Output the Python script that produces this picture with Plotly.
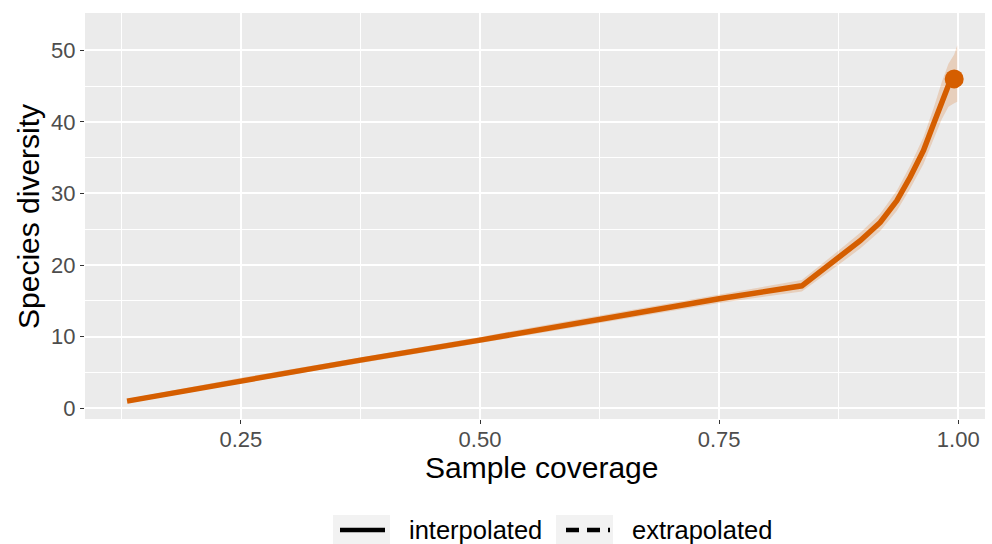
import plotly.graph_objects as go

# interpolated curve (sample coverage vs. species diversity)
coverage = [0.131, 0.25, 0.375, 0.50, 0.5625, 0.75, 0.8365, 0.8766, 0.8975, 0.9184,
            0.9359, 0.9498, 0.9637, 0.9742, 0.9829, 0.9898, 0.9958]
diversity = [1.0, 3.88, 6.72, 9.52, 11.0, 15.3, 17.1, 21.2, 23.4, 25.95,
             29.0, 32.3, 36.0, 39.7, 43.0, 45.1, 46.0]
# extrapolated part (very short, hidden under the observed point)
ext_coverage = [0.9958, 0.9990]
ext_diversity = [46.0, 46.75]

# confidence band
band_coverage = coverage + [0.9990]
band_lower = [0.7, 3.5, 6.3, 9.05, 10.5, 14.7, 16.3, 20.2, 22.3, 24.75,
              27.6, 30.7, 34.1, 37.5, 40.4, 42.1, 42.6, 42.8]
band_upper = [1.3, 4.25, 7.1, 9.95, 11.5, 15.9, 17.9, 22.2, 24.5, 27.15,
              30.4, 33.9, 37.9, 41.9, 45.6, 48.1, 49.4, 50.7]

obs_coverage = [0.9958]
obs_diversity = [46.0]

x_ticks = [0.25, 0.50, 0.75, 1.00]
x_ticklabels = ["0.25", "0.50", "0.75", "1.00"]
x_minor = [0.125, 0.375, 0.625, 0.875]
y_ticks = [0, 10, 20, 30, 40, 50]
y_minor = [5, 15, 25, 35, 45]
legend_labels = ["interpolated", "extrapolated"]

ORANGE = "#D55E00"
FONT = "Liberation Sans"

fig = go.Figure()

fig.add_trace(go.Scatter(
    x=band_coverage + band_coverage[::-1], y=band_upper + band_lower[::-1],
    fill="toself", fillcolor="rgba(213,94,0,0.2)", line=dict(width=0),
    mode="lines", showlegend=False, hoverinfo="skip"))

fig.add_trace(go.Scatter(
    x=coverage, y=diversity, mode="lines", name=legend_labels[0],
    line=dict(color=ORANGE, width=5.5), showlegend=False))

fig.add_trace(go.Scatter(
    x=ext_coverage, y=ext_diversity, mode="lines", name=legend_labels[1],
    line=dict(color=ORANGE, width=5.5, dash="dash"), showlegend=False))

fig.add_trace(go.Scatter(
    x=obs_coverage, y=obs_diversity, mode="markers",
    marker=dict(color=ORANGE, size=19), showlegend=False))

axis_common = dict(
    showgrid=True, gridcolor="white", gridwidth=1.6,
    zeroline=False, showline=False,
    ticks="outside", ticklen=4, tickwidth=1.2, tickcolor="#333333",
    tickfont=dict(family=FONT, size=22, color="#4D4D4D"),
    automargin=False,
)

# manual ggplot-style legend below the panel (paper coords: x=(px-85)/900, y=(419-py)/406)
def px_x(p):
    return (p - 85) / 900.0

def px_y(p):
    return (419 - p) / 406.0

shapes = []
annotations = []
key_boxes = [(333, 390), (556, 613)]
key_lines = [(340, 385, "solid"), (566, 610, "13px,8px")]
text_left = [407, 630]
for (b0, b1), (l0, l1, dash), tl, label in zip(key_boxes, key_lines, text_left, legend_labels):
    shapes.append(dict(type="rect", xref="paper", yref="paper",
                       x0=px_x(b0), x1=px_x(b1), y0=px_y(545), y1=px_y(515),
                       fillcolor="#F2F2F2", line=dict(width=0), layer="below"))
    shapes.append(dict(type="line", xref="paper", yref="paper",
                       x0=px_x(l0), x1=px_x(l1), y0=px_y(530), y1=px_y(530),
                       line=dict(color="black", width=4.5, dash=dash)))
    annotations.append(dict(text=label, xref="paper", yref="paper",
                            x=px_x(tl), y=px_y(530), xanchor="left", yanchor="middle",
                            showarrow=False, font=dict(family=FONT, size=25.5, color="black")))

annotations += [
    dict(text="Sample coverage", xref="paper", yref="paper", x=px_x(541), y=px_y(468),
         xanchor="center", yanchor="middle", showarrow=False,
         font=dict(family=FONT, size=30, color="black")),
    dict(text="Species diversity", xref="paper", yref="paper", x=px_x(28), y=px_y(217),
         xanchor="center", yanchor="middle", textangle=-90, showarrow=False,
         font=dict(family=FONT, size=30, color="black")),
]

fig.update_layout(
    width=992, height=544,
    margin=dict(l=85, r=7, t=13, b=125, autoexpand=False),
    paper_bgcolor="white", plot_bgcolor="#EBEBEB",
    font=dict(family=FONT),
    xaxis=dict(range=[0.087, 1.028], tickvals=x_ticks, ticktext=x_ticklabels,
               ticklabelstandoff=-3,
               minor=dict(tickvals=x_minor, showgrid=True,
                          gridcolor="white", gridwidth=0.8, ticks=""),
               **axis_common),
    yaxis=dict(range=[-1.5, 55.2], tickvals=y_ticks,
               minor=dict(tickvals=y_minor, showgrid=True,
                          gridcolor="white", gridwidth=0.8, ticks=""),
               **axis_common),
    showlegend=False,
    shapes=shapes,
    annotations=annotations,
)

fig.write_html("out.html")
